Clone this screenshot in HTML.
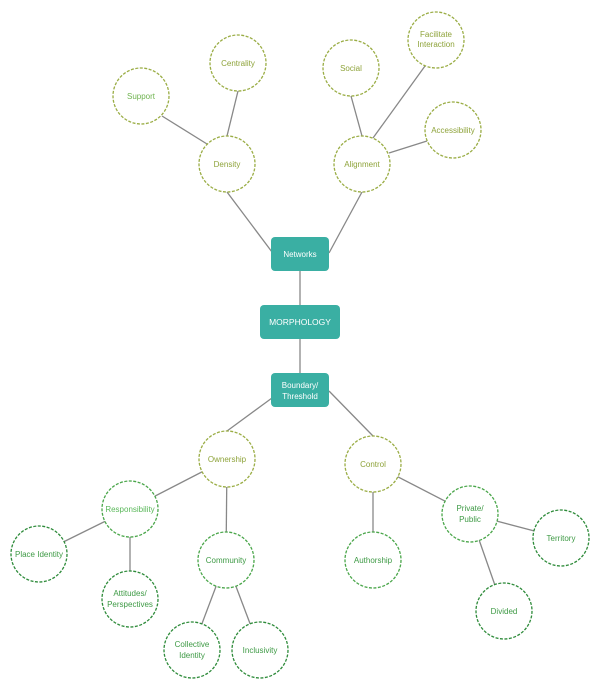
<!DOCTYPE html>
<html><head><meta charset="utf-8"><style>
html,body{margin:0;padding:0;background:#fff;}
svg{display:block;font-family:"Liberation Sans",sans-serif;}
</style></head><body>
<svg width="600" height="690" viewBox="0 0 600 690" xmlns="http://www.w3.org/2000/svg">
<g stroke="#888" stroke-width="1.3" fill="none">
<line x1="227" y1="192" x2="272" y2="252"/>
<line x1="362" y1="192" x2="329" y2="253"/>
<line x1="162" y1="116" x2="207" y2="144"/>
<line x1="238" y1="91" x2="227" y2="136"/>
<line x1="351" y1="96" x2="362" y2="136"/>
<line x1="425" y1="66" x2="373" y2="138"/>
<line x1="427" y1="141" x2="389" y2="153"/>
<line x1="300" y1="271" x2="300" y2="305"/>
<line x1="300" y1="339" x2="300" y2="373"/>
<line x1="272" y1="398" x2="227" y2="431"/>
<line x1="329" y1="391" x2="373" y2="436"/>
<line x1="227" y1="459" x2="130" y2="509"/>
<line x1="227" y1="459" x2="226" y2="560"/>
<line x1="130" y1="509" x2="39" y2="554"/>
<line x1="130" y1="509" x2="130" y2="599"/>
<line x1="226" y1="560" x2="192" y2="650"/>
<line x1="226" y1="560" x2="260" y2="650"/>
<line x1="373" y1="464" x2="373" y2="560"/>
<line x1="373" y1="464" x2="470" y2="514"/>
<line x1="470" y1="514" x2="561" y2="538"/>
<line x1="470" y1="514" x2="504" y2="611"/>
</g>
<g fill="#fff" stroke="#9aad45" stroke-width="1.3" stroke-dasharray="3,1.5">
<circle cx="141" cy="96" r="28"/>
<circle cx="238" cy="63" r="28"/>
<circle cx="227" cy="164" r="28"/>
<circle cx="351" cy="68" r="28"/>
<circle cx="436" cy="40" r="28"/>
<circle cx="453" cy="130" r="28"/>
<circle cx="362" cy="164" r="28"/>
<circle cx="227" cy="459" r="28"/>
<circle cx="373" cy="464" r="28"/>
</g>
<g fill="#fff" stroke="#4aa64a" stroke-width="1.3" stroke-dasharray="3,1.5">
<circle cx="130" cy="509" r="28"/>
<circle cx="226" cy="560" r="28"/>
<circle cx="373" cy="560" r="28"/>
<circle cx="470" cy="514" r="28"/>
</g>
<g fill="#fff" stroke="#2e8b3a" stroke-width="1.3" stroke-dasharray="3,1.5">
<circle cx="39" cy="554" r="28"/>
<circle cx="130" cy="599" r="28"/>
<circle cx="192" cy="650" r="28"/>
<circle cx="260" cy="650" r="28"/>
<circle cx="561" cy="538" r="28"/>
<circle cx="504" cy="611" r="28"/>
</g>
<g fill="#3aafa3">
<rect x="271" y="237" width="58" height="34" rx="4"/>
<rect x="260" y="305" width="80" height="34" rx="4"/>
<rect x="271" y="373" width="58" height="34" rx="4"/>
</g>
<g fill="#fff" font-size="8" text-anchor="middle">
<text x="300" y="257">Networks</text>
<text x="300" y="325" font-size="8.5">MORPHOLOGY</text>
<text x="300" y="388">Boundary/</text>
<text x="300" y="399">Threshold</text>
</g>
<g fill="#8ea33a" font-size="8" text-anchor="middle">
<text x="141" y="99" fill="#6fb34f">Support</text>
<text x="238" y="66">Centrality</text>
<text x="227" y="167">Density</text>
<text x="351" y="71">Social</text>
<text x="436" y="37">Facilitate</text>
<text x="436" y="47">Interaction</text>
<text x="453" y="133">Accessibility</text>
<text x="362" y="167">Alignment</text>
<text x="227" y="462">Ownership</text>
<text x="373" y="467">Control</text>
</g>
<g fill="#3e9a45" font-size="8" text-anchor="middle">
<text x="130" y="512" fill="#5ab85a">Responsibility</text>
<text x="226" y="563">Community</text>
<text x="373" y="563">Authorship</text>
<text x="470" y="511">Private/</text>
<text x="470" y="522">Public</text>
<text x="39" y="557">Place Identity</text>
<text x="130" y="596">Attitudes/</text>
<text x="130" y="607">Perspectives</text>
<text x="192" y="647">Collective</text>
<text x="192" y="658">Identity</text>
<text x="260" y="653">Inclusivity</text>
<text x="561" y="541">Territory</text>
<text x="504" y="614">Divided</text>
</g>
</svg>
</body></html>
